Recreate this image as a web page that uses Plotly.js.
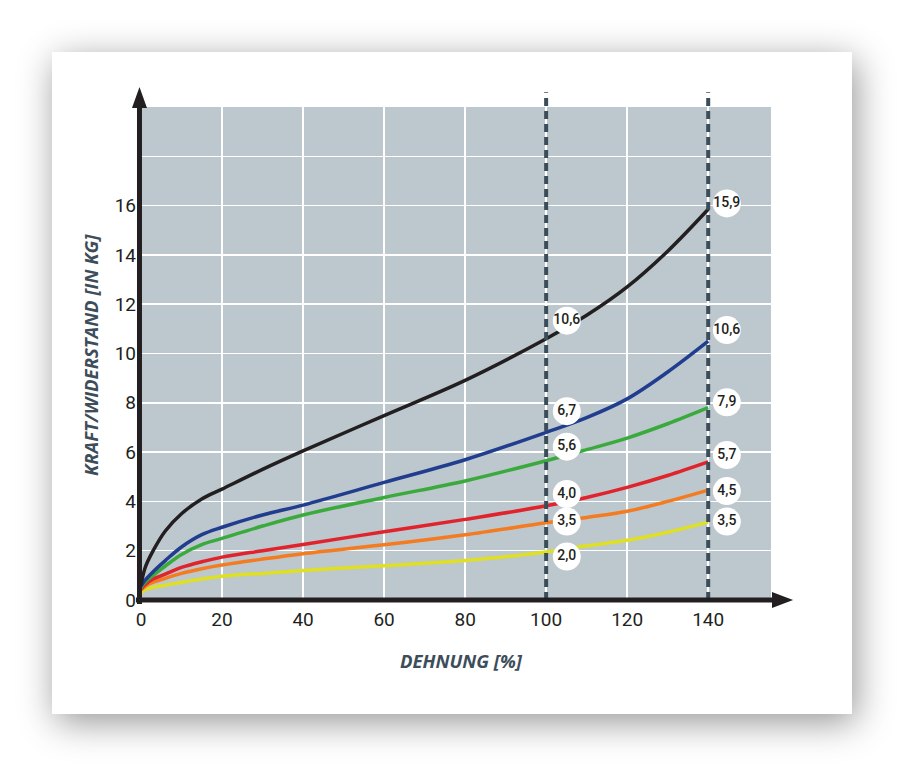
<!DOCTYPE html>
<html>
<head>
<meta charset="utf-8">
<script src="https://cdn.plot.ly/plotly-3.0.1.min.js"></script>
<style>
  html, body { margin: 0; padding: 0; background: #fff; }
  #card {
    position: absolute; left: 52px; top: 52px; width: 800px; height: 662px;
    background: #fff; box-shadow: 4px 8px 34px rgba(0,0,0,0.42);
  }
  #chart { position: absolute; left: 0; top: 0; width: 904px; height: 767px; }
</style>
</head>
<body>
<div id="card"></div>
<div id="chart"></div>
<script>
// Dehnung in %
const dehnung = [0, 1, 3, 6, 10, 15, 20, 30, 40, 60, 80, 100, 110, 120, 130, 140];

// Kraft in kg, one series per band
const schwarz = [0.6, 1.3, 2.0, 2.8, 3.5, 4.1, 4.5, 5.3, 6.05, 7.48, 8.91, 10.6, 11.55, 12.7, 14.15, 15.85];
const blau    = [0.55, 0.8, 1.15, 1.6, 2.15, 2.65, 2.95, 3.45, 3.85, 4.77, 5.69, 6.8, 7.4, 8.16, 9.25, 10.5];
const gruen   = [0.5, 0.72, 1.0, 1.38, 1.85, 2.25, 2.5, 3.0, 3.45, 4.16, 4.83, 5.65, 6.1, 6.57, 7.15, 7.8];
const rot     = [0.45, 0.62, 0.85, 1.05, 1.32, 1.55, 1.74, 2.0, 2.25, 2.77, 3.27, 3.82, 4.16, 4.57, 5.05, 5.6];
const orange  = [0.4, 0.55, 0.72, 0.88, 1.08, 1.27, 1.42, 1.66, 1.88, 2.24, 2.65, 3.13, 3.35, 3.6, 4.0, 4.46];
const gelb    = [0.3, 0.42, 0.52, 0.6, 0.72, 0.85, 0.96, 1.08, 1.2, 1.39, 1.6, 1.95, 2.2, 2.42, 2.75, 3.16];

// value bubbles
const labelX    = [105.1, 105.1, 105.1, 105.1, 105.1, 105.1, 144.6, 144.6, 144.6, 144.6, 144.6, 144.6];
const labelY    = [11.33, 7.66, 6.22, 4.30, 3.18, 1.76, 16.09, 10.95, 8.02, 5.88, 4.42, 3.18];
const labelText = ["10,6", "6,7", "5,6", "4,0", "3,5", "2,0", "15,9", "10,6", "7,9", "5,7", "4,5", "3,5"];

const xTicks = [0, 20, 40, 60, 80, 100, 120, 140];
const yTicks = [0, 2, 4, 6, 8, 10, 12, 14, 16, 18];
const yTickText = ["0", "2", "4", "6", "8", "10", "12", "14", "16", ""];
const markLines = [100, 140];

const series = [
  { y: gelb,    color: "#dfe024" },
  { y: orange,  color: "#f47b20" },
  { y: rot,     color: "#e1232b" },
  { y: gruen,   color: "#3aaa3c" },
  { y: blau,    color: "#213d8e" },
  { y: schwarz, color: "#231f20" },
];

const traces = series.map(s => ({
  x: dehnung,
  y: s.y,
  mode: "lines",
  type: "scatter",
  line: { color: s.color, width: 3.5, shape: "spline", smoothing: 1 },
  hoverinfo: "skip",
  cliponaxis: false,
}));

traces.push({
  x: labelX,
  y: labelY,
  text: labelText,
  mode: "markers+text",
  type: "scatter",
  marker: { size: 28, color: "#ffffff", line: { width: 0 } },
  textposition: "middle center",
  textfont: { family: "Roboto, sans-serif", size: 14, color: "#231f20", weight: 500 },
  cliponaxis: false,
});

const dark = "#3c4d5a";
const shapes = [];

markLines.forEach(v => {
  shapes.push({
    type: "line", xref: "x", yref: "paper",
    x0: v, x1: v, y0: 0, y1: 1.03,
    line: { color: dark, width: 4, dash: "8px,5px" },
    layer: "above",
  });
});

// axes with arrow heads
shapes.push({
  type: "line", xref: "paper", yref: "paper",
  x0: -0.008, x1: 1.005, y0: 0, y1: 0,
  line: { color: "#231f20", width: 5 },
});
shapes.push({
  type: "path", xref: "paper", yref: "paper",
  path: "M 1.0016 0.0162 L 1.035 0 L 1.0016 -0.0162 Z",
  fillcolor: "#231f20", line: { width: 0 },
});
shapes.push({
  type: "line", xref: "paper", yref: "paper",
  x0: -0.0024, x1: -0.0024, y0: -0.008, y1: 1.0,
  line: { color: "#231f20", width: 5 },
});
shapes.push({
  type: "path", xref: "paper", yref: "paper",
  path: "M -0.0143 0.998 L -0.0024 1.0406 L 0.0095 0.998 Z",
  fillcolor: "#231f20", line: { width: 0 },
});

const layout = {
  width: 904,
  height: 767,
  margin: { l: 141, r: 133, t: 107, b: 167 },
  paper_bgcolor: "rgba(0,0,0,0)",
  plot_bgcolor: "#bcc7ce",
  showlegend: false,
  font: { family: "Roboto, sans-serif", color: "#231f20" },
  xaxis: {
    range: [0, 155.5],
    tickvals: xTicks,
    showgrid: true,
    gridcolor: "#ffffff",
    gridwidth: 1.5,
    zeroline: false,
    showline: false,
    ticks: "",
    ticklabelstandoff: 6,
    tickfont: { size: 19, color: "#231f20" },
    fixedrange: true,
  },
  yaxis: {
    range: [0, 20],
    tickvals: yTicks,
    ticktext: yTickText,
    showgrid: true,
    gridcolor: "#ffffff",
    gridwidth: 1.5,
    zeroline: false,
    showline: false,
    ticks: "",
    ticklabelstandoff: 4,
    tickfont: { size: 19, color: "#231f20" },
    fixedrange: true,
  },
  shapes: shapes,
  annotations: [
    {
      text: "<b><i>DEHNUNG [%]</i></b>",
      xref: "paper", yref: "paper",
      x: (461 - 141) / 630, y: -(660 - 600) / 493,
      xanchor: "center", yanchor: "middle",
      showarrow: false,
      font: { family: "'Open Sans', sans-serif", size: 18.5, color: "#3d4d5b" },
    },
    {
      text: "<b><i>KRAFT/WIDERSTAND [IN KG]</i></b>",
      xref: "paper", yref: "paper",
      x: -(141 - 90) / 630, y: (600 - 355) / 493,
      xanchor: "center", yanchor: "middle",
      textangle: -90,
      showarrow: false,
      font: { family: "'Open Sans', sans-serif", size: 18.5, color: "#3d4d5b" },
    },
  ],
};

Plotly.newPlot("chart", traces, layout, { displayModeBar: false, staticPlot: true });
</script>
</body>
</html>
